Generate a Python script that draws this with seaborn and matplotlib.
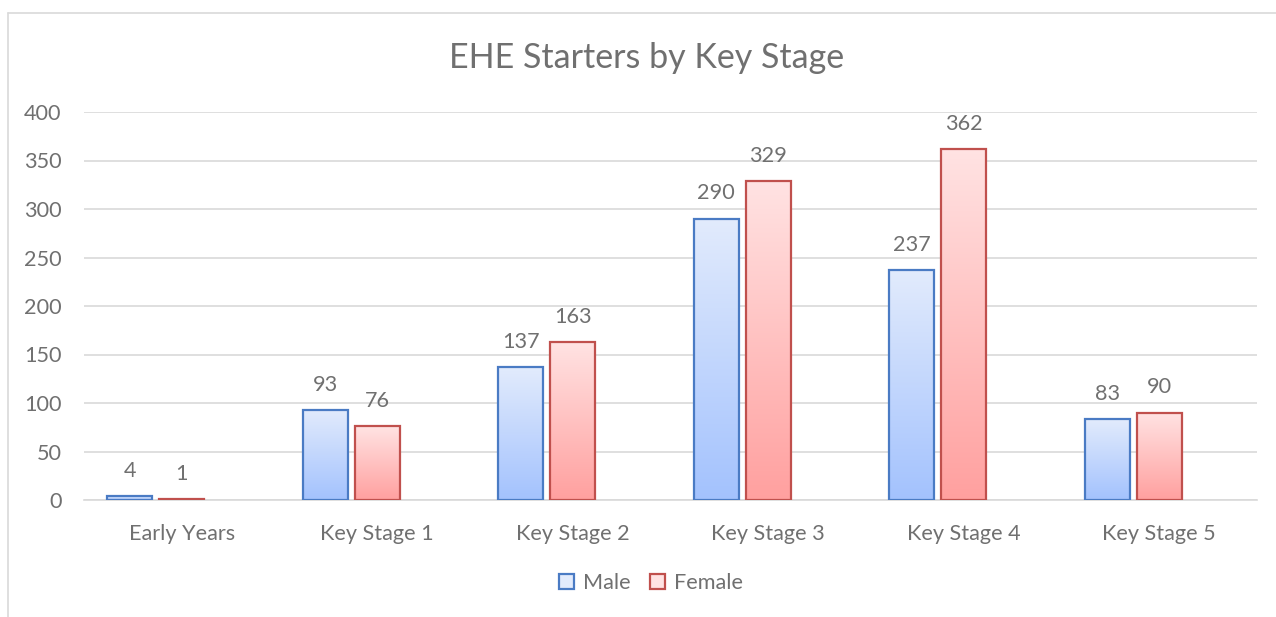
import numpy as np
import pandas as pd
import matplotlib
matplotlib.use("Agg")
import matplotlib.pyplot as plt
import seaborn as sns
from matplotlib.patches import Rectangle
from matplotlib.lines import Line2D
from matplotlib.colors import LinearSegmentedColormap

stages = ["Early Years", "Key Stage 1", "Key Stage 2", "Key Stage 3", "Key Stage 4", "Key Stage 5"]
male = [4, 93, 137, 290, 237, 83]
female = [1, 76, 163, 329, 362, 90]
series = ["Male", "Female"]
title = "EHE Starters by Key Stage"
yticks = [0, 50, 100, 150, 200, 250, 300, 350, 400]

sns.set_theme(style="white")
plt.rcParams['font.family'] = ['Lato', 'DejaVu Sans']

TXT = "#707070"
GRID = "#D9D9D9"
FS = 15.6
styles = {
    "Male": dict(edge="#4A7BC4", top="#E2EBFC", bottom="#A3C2FE"),
    "Female": dict(edge="#C0504D", top="#FFE3E3", bottom="#FFA09F"),
}

df = pd.DataFrame({
    "stage": stages * 2,
    "value": male + female,
    "sex": ["Male"] * len(stages) + ["Female"] * len(stages),
})

fig = plt.figure(figsize=(12.76, 6.17), dpi=100)
ax = fig.add_axes([84 / 1276, 1 - 500 / 617, (1257 - 84) / 1276, (500 - 112) / 617])

hue_order = ["Male", "Female", " "]
sns.barplot(data=df, x="stage", y="value", hue="sex", hue_order=hue_order,
            order=stages, width=0.8, gap=0.14, ax=ax, legend=False,
            palette={"Male": "#A3C2FE", "Female": "#FFA09F", " ": "white"},
            errorbar=None)

ax.set_ylim(0, 400)
ax.set_xlim(-0.5, len(stages) - 0.5)

# gradient fill for each bar
grad = np.linspace(0, 1, 256).reshape(-1, 1)
for container, name in zip(ax.containers, series):
    st = styles[name]
    cmap = LinearSegmentedColormap.from_list(name, [st["bottom"], st["top"]])
    for patch in container.patches:
        x0, y0 = patch.get_x(), patch.get_y()
        w, h = patch.get_width(), patch.get_height()
        if h <= 0:
            continue
        im = ax.imshow(grad, extent=(x0, x0 + w, y0, y0 + h), origin="lower",
                       aspect="auto", cmap=cmap, zorder=2)
        im.set_clip_path(patch)
        patch.set_facecolor("none")
        patch.set_edgecolor(st["edge"])
        patch.set_linewidth(1.6)
        patch.set_zorder(3)
    ax.bar_label(container, labels=[str(int(v)) for v in container.datavalues],
                 padding=11, fontsize=FS, color=TXT)

ax.set_aspect("auto")
ax.set_xlim(-0.5, len(stages) - 0.5)
ax.set_ylim(0, 400)

ax.set_yticks(yticks)
ax.set_yticklabels([str(v) for v in yticks])
ax.yaxis.grid(True, color=GRID, linewidth=1.2, zorder=0)
ax.set_axisbelow(True)
for s in ["top", "right", "left"]:
    ax.spines[s].set_visible(False)
ax.spines["bottom"].set_color(GRID)
ax.spines["bottom"].set_linewidth(1.2)
ax.tick_params(axis="both", length=0, labelsize=FS, labelcolor=TXT)
ax.tick_params(axis="y", pad=16)
ax.tick_params(axis="x", pad=17)
ax.set_xlabel("")
ax.set_ylabel("")

fig.text(647 / 1276, 1 - 58 / 617, title, ha="center", va="center", fontsize=24.5, color=TXT)

handles = [Rectangle((0, 0), 1, 1, facecolor=styles[n]["top"], edgecolor=styles[n]["edge"], linewidth=1.6)
           for n in series]
fig.legend(handles, series, loc="center", bbox_to_anchor=(651 / 1276, 1 - 583 / 617), ncol=2,
           frameon=False, fontsize=FS, labelcolor=TXT, handlelength=0.7, handleheight=0.7,
           handletextpad=0.4, columnspacing=0.9)

# chart frame
fig.add_artist(Line2D([8 / 1276, 8 / 1276], [0, 1 - 13 / 617], transform=fig.transFigure, color=GRID, linewidth=1.2))
fig.add_artist(Line2D([8 / 1276, 1], [1 - 13 / 617, 1 - 13 / 617], transform=fig.transFigure, color=GRID, linewidth=1.2))

fig.savefig("out.png", dpi=100, facecolor="white")
